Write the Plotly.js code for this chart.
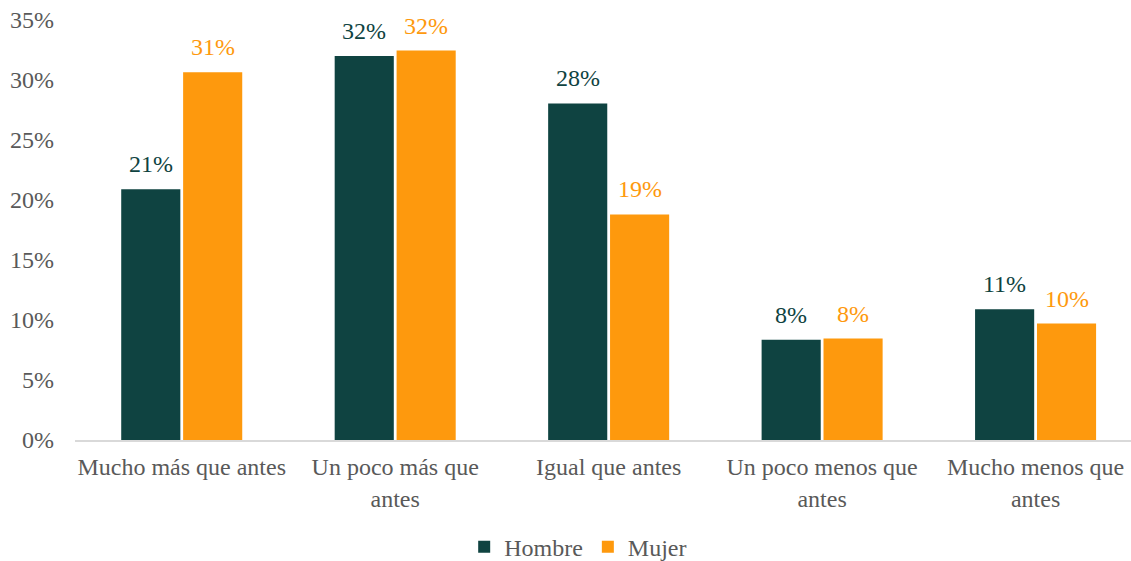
<!DOCTYPE html>
<html>
<head>
<meta charset="utf-8">
<script src="https://cdn.plot.ly/plotly-3.0.1.min.js"></script>
<style>
html,body{margin:0;padding:0;background:#fff;}
#chart{width:1131px;height:561px;}
</style>
</head>
<body>
<div id="chart"></div>
<script>
const categories = ["Mucho más que antes", "Un poco más que<br>antes", "Igual que antes", "Un poco menos que<br>antes", "Mucho menos que<br>antes"];
const hombre = [20.9, 32.0, 28.05, 8.35, 10.9];
const mujer = [30.65, 32.45, 18.8, 8.45, 9.7];
const seriesNames = ["Hombre", "Mujer"];
const colors = ["#0F4341", "#FE990D"];
const yTicks = [0, 5, 10, 15, 20, 25, 30, 35];

const FONT = "Times New Roman, Liberation Serif, DejaVu Serif, serif";
const FS = 24;
const series = [hombre, mujer];

const traces = series.map((vals, i) => ({
  type: "bar",
  name: seriesNames[i],
  x: categories,
  y: vals,
  marker: {color: colors[i], line: {width: 0}},
  hoverinfo: "x+y"
}));

const annotations = [];
series.forEach((vals, i) => {
  vals.forEach((v, j) => {
    annotations.push({
      x: categories[j], y: v, xref: "x", yref: "y",
      xshift: i === 0 ? -31 : 31, yshift: 10,
      yanchor: "bottom", showarrow: false,
      text: Math.round(v) + "%",
      font: {family: FONT, size: FS, color: colors[i]}
    });
  });
});

const layout = {
  width: 1131, height: 561,
  margin: {l: 75, r: 0, t: 20, b: 121, autoexpand: false},
  paper_bgcolor: "#fff", plot_bgcolor: "#fff",
  font: {family: FONT, size: FS, color: "#595959"},
  barmode: "group",
  bargap: 0.42,
  bargroupgap: 0.045,
  showlegend: true,
  legend: {orientation: "h", x: 0.4765, xanchor: "center", y: -0.255, yanchor: "middle",
           font: {family: FONT, size: FS, color: "#595959"}, traceorder: "normal"},
  xaxis: {
    type: "category", range: [-0.5, 4.447], fixedrange: true,
    showline: true, linecolor: "#D9D9D9", linewidth: 1.5,
    ticks: "", showgrid: false, zeroline: false, automargin: false,
    tickfont: {family: FONT, size: FS, color: "#595959"},
    ticklabelstandoff: 5
  },
  yaxis: {
    range: [0, 35], tickvals: yTicks, ticktext: yTicks.map(t => t + "%"),
    showgrid: false, zeroline: false, showline: false, ticks: "", automargin: false,
    tickfont: {family: FONT, size: FS, color: "#595959"},
    ticklabelstandoff: 20
  },
  annotations: annotations
};

Plotly.newPlot("chart", traces, layout, {displayModeBar: false, staticPlot: true});
</script>
</body>
</html>
